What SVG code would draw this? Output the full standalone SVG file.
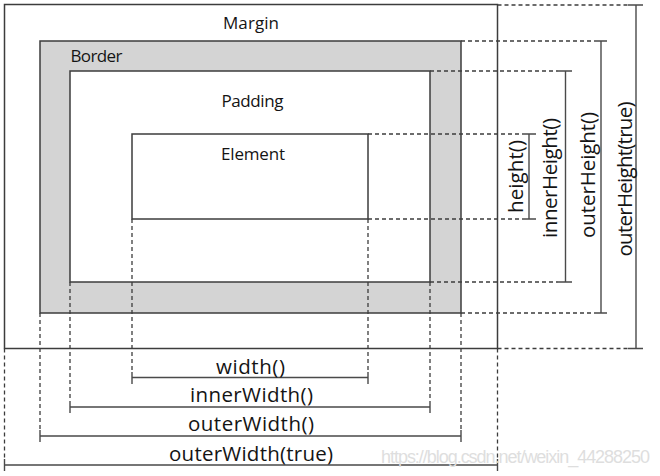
<svg xmlns="http://www.w3.org/2000/svg" width="660" height="476" viewBox="0 0 660 476">
<style>
.box{stroke:#3c3c3c;stroke-width:1.5;fill:#ffffff}
.gray{fill:#d4d4d4}
.dash{stroke:#3c3c3c;stroke-width:1.3;stroke-dasharray:4 3;fill:none}
.meas{stroke:#4a4a4a;stroke-width:1.4;fill:none}
.lbl{font-family:"Open Sans","Liberation Sans",sans-serif;font-size:17px;fill:#141414}
.mlbl{font-family:"Open Sans","Liberation Sans",sans-serif;font-size:20.5px;fill:#141414;text-anchor:middle}
.wm{font-family:"Liberation Sans","DejaVu Sans",sans-serif;font-size:18px;fill:#dedede}
</style>
<rect width="660" height="476" fill="#ffffff"/>
<g id="margin">
<rect class="box" x="4.5" y="4.5" width="493" height="344"/>
<text class="lbl" x="251" y="29" text-anchor="middle" textLength="56">Margin</text>
</g>
<g id="border">
<rect class="box gray" x="40" y="41" width="421" height="272"/>
<text class="lbl" x="70.5" y="62" textLength="52">Border</text>
</g>
<g id="padding">
<rect class="box" x="70" y="71" width="360" height="211"/>
<text class="lbl" x="252.5" y="106.5" text-anchor="middle" textLength="62">Padding</text>
</g>
<g id="element">
<rect class="box" x="132" y="134" width="236" height="85"/>
<text class="lbl" x="253" y="160" text-anchor="middle" textLength="64">Element</text>
</g>
<g id="connectors">
<path class="dash" d="M368 134H522M368 219H522M430 71H558M430 282H558M461 41H594M461 313H594M497.5 5H628M497.5 348.5H628"/>
<path class="dash" d="M132 219V372M368 219V372M70 282V401M430 282V401M40 313V430M461 313V430M4.5 348.5V459M497.5 348.5V459"/>
<path class="meas" d="M529 134V219M522 134H536M522 219H536"/>
<path class="meas" d="M565.5 71V282M558 71H572M558 282H572"/>
<path class="meas" d="M601 41V313M594 41H607M594 313H607"/>
<path class="meas" d="M636 5V348.5M628 5H643M628 348.5H643"/>
<path class="meas" d="M132 377.5H368M132 372V384M368 372V384"/>
<path class="meas" d="M70 407H430M70 401V413M430 401V413"/>
<path class="meas" d="M40 436H461M40 430V442M461 430V442"/>
<path class="meas" d="M4.5 465H497.5M4.5 459V471M497.5 459V471"/>
</g>
<g id="labels">
<text class="mlbl" transform="translate(523 176.5) rotate(-90)" textLength="73">height()</text>
<text class="mlbl" transform="translate(557 178) rotate(-90)" textLength="120">innerHeight()</text>
<text class="mlbl" transform="translate(595 175) rotate(-90)" textLength="126">outerHeight()</text>
<text class="mlbl" transform="translate(632 179) rotate(-90)" textLength="155">outerHeight(true)</text>
<text class="mlbl" x="250.5" y="373.5" textLength="69">width()</text>
<text class="mlbl" x="251.5" y="402" textLength="123">innerWidth()</text>
<text class="mlbl" x="251" y="431" textLength="126">outerWidth()</text>
<text class="mlbl" x="251" y="461" textLength="164">outerWidth(true)</text>
</g>
<text class="wm" x="381" y="463" textLength="269">https://blog.csdn.net/weixin_44288250</text>
</svg>
